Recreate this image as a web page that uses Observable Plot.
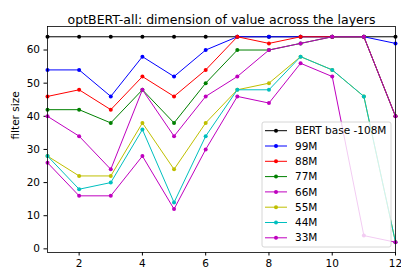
<!DOCTYPE html>
<html>
<head>
<meta charset="utf-8">
<script src="https://cdn.jsdelivr.net/npm/d3@7"></script>
<script src="https://cdn.jsdelivr.net/npm/@observablehq/plot@0.6"></script>
<style>
  html, body { margin: 0; padding: 0; background: #fff; }
  #chart svg { display: block; }
</style>
</head>
<body>
<div id="chart"></div>
<script>
const layers = [1, 2, 3, 4, 5, 6, 7, 8, 9, 10, 11, 12];
const seriesNames = ["BERT base -108M", "99M", "88M", "77M", "66M", "55M", "44M", "33M"];
const seriesColors = ["#000000", "#0000ff", "#ff0000", "#008000", "#bf00bf", "#bfbf00", "#00bfbf", "#bf00bf"];
const bert = [64, 64, 64, 64, 64, 64, 64, 64, 64, 64, 64, 64];
const m99 = [54, 54, 46, 58, 52, 60, 64, 64, 64, 64, 64, 62];
const m88 = [46, 48, 42, 52, 46, 54, 64, 62, 64, 64, 64, 40];
const m77 = [42, 42, 38, 48, 38, 50, 60, 60, 62, 64, 64, 40];
const m66 = [40, 34, 24, 48, 34, 46, 52, 60, 62, 64, 64, 40];
const m55 = [28, 22, 22, 38, 24, 38, 48, 50, 58, 54, 46, 2];
const m44 = [28, 18, 20, 36, 14, 34, 48, 48, 58, 54, 46, 2];
const m33 = [26, 16, 16, 28, 12, 30, 46, 44, 56, 52, 4, 2];
const xTicks = [2, 4, 6, 8, 10, 12];
const yTicks = [0, 10, 20, 30, 40, 50, 60];
const titleText = "optBERT-all: dimension of value across the layers";
const yLabel = "filter size";

const allValues = [bert, m99, m88, m77, m66, m55, m44, m33];
const marks = [];
allValues.forEach((vals, i) => {
  const rows = layers.map((l, j) => ({layer: l, value: vals[j]}));
  marks.push(Plot.line(rows, {x: "layer", y: "value", stroke: seriesColors[i], strokeWidth: 1}));
  marks.push(Plot.dot(rows, {x: "layer", y: "value", fill: seriesColors[i], r: 2}));
});

const font = "DejaVu Sans, sans-serif";
const tickFs = 10.5;
const chart = Plot.plot({
  width: 401,
  height: 270,
  marginLeft: 47,
  marginRight: 6,
  marginTop: 26,
  marginBottom: 18,
  style: {fontFamily: font, fontSize: tickFs + "px", color: "#000", background: "#fff"},
  x: {domain: [1, 12], ticks: xTicks, tickSize: 3.5, tickPadding: 4, label: null, tickFormat: d => String(d)},
  y: {domain: [-1.1, 67.1], ticks: yTicks, tickSize: 3.5, tickPadding: 4, label: null},
  marks: [
    ...marks,
    Plot.frame({stroke: "#000", strokeWidth: 0.8}),
    Plot.text([titleText], {frameAnchor: "top", dy: -11, fontSize: 12.5, fill: "#000"}),
    Plot.text([yLabel], {frameAnchor: "left", dx: -32, rotate: -90, fontSize: tickFs, fill: "#000"})
  ]
});
document.getElementById("chart").appendChild(chart);

// Legend overlay (matplotlib style, semi-transparent white box)
const svg = d3.select(chart);
const lg = svg.append("g").attr("font-family", font).attr("font-size", tickFs).attr("text-anchor", "start");
lg.append("rect")
  .attr("x", 262).attr("y", 122).attr("width", 129).attr("height", 125)
  .attr("rx", 2).attr("fill", "#fff").attr("fill-opacity", 0.8)
  .attr("stroke", "#cccccc").attr("stroke-width", 0.8);
seriesNames.forEach((name, i) => {
  const cy = 130.7 + i * 15.3;
  lg.append("line").attr("x1", 265).attr("x2", 287).attr("y1", cy).attr("y2", cy)
    .attr("stroke", seriesColors[i]).attr("stroke-width", 1);
  lg.append("circle").attr("cx", 276).attr("cy", cy).attr("r", 2).attr("fill", seriesColors[i]);
  lg.append("text").attr("x", 295).attr("y", cy).attr("dy", "0.35em")
    .attr("text-anchor", "start").attr("fill", "#000").text(name);
});
</script>
</body>
</html>
